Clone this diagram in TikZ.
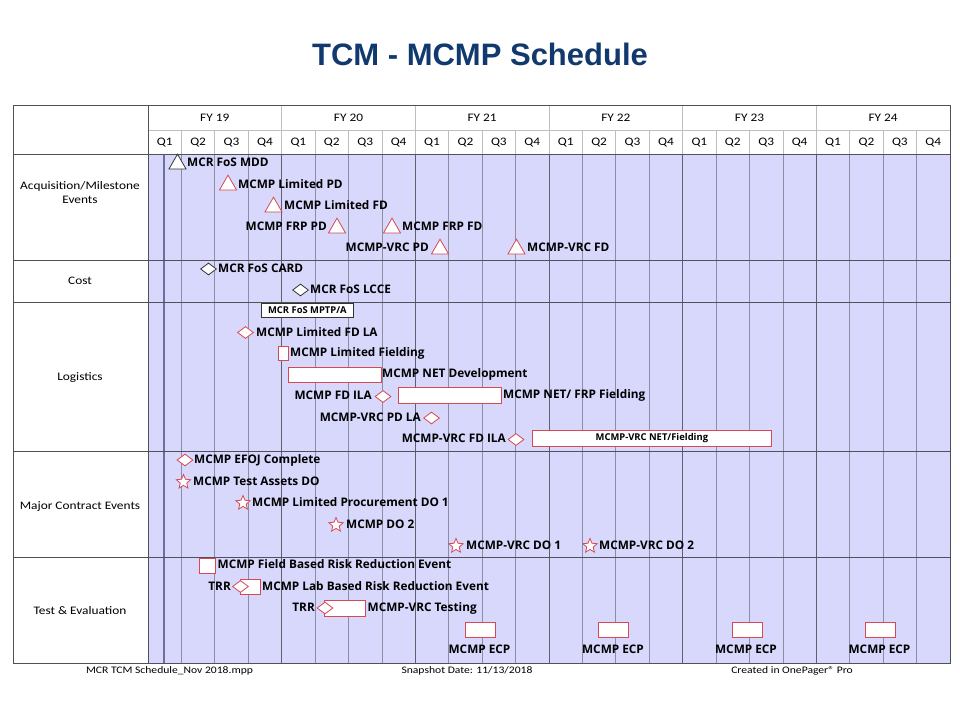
\documentclass[tikz,border=0pt]{standalone}
\usepackage{fontspec}
\setmainfont[FakeStretch=1.16]{Carlito}
\newfontfamily\titlefont{Liberation Sans}
\newfontfamily\lblfont{Open Sans}
\usetikzlibrary{shapes.geometric}
\definecolor{lav}{RGB}{216,216,252}
\definecolor{mred}{RGB}{214,72,82}
\definecolor{tblue}{RGB}{18,57,110}
\definecolor{qgray}{RGB}{140,140,165}
\definecolor{ygray}{RGB}{95,95,110}
\definecolor{hgray}{RGB}{190,190,190}
\definecolor{rowline}{RGB}{80,80,90}
\definecolor{todayc}{RGB}{110,110,160}
\tikzset{
  lbl/.style={inner sep=0pt, font=\lblfont\bfseries\fontsize{11.8}{12}\selectfont},
  small/.style={font=\lblfont\bfseries\fontsize{9.4}{9.4}\selectfont},
  hdr/.style={inner sep=0pt, font=\fontsize{11.5}{11.5}\selectfont},
  rowlbl/.style={inner sep=0pt, font=\fontsize{11.5}{14}\selectfont, align=center},
  foot/.style={inner sep=0pt, font=\fontsize{10}{10}\selectfont},
  tri/.style={regular polygon, regular polygon sides=3, draw=mred, fill=white, minimum size=19.6pt, inner sep=0pt, line width=0.8pt},
  btri/.style={tri, draw=black!80},
  dia/.style={diamond, draw=mred, fill=white, minimum width=16pt, minimum height=12pt, inner sep=0pt, line width=0.8pt},
  bdia/.style={dia, draw=black!80},
  mstar/.style={star, star points=5, star point ratio=2.2, draw=mred, fill=white, minimum size=15pt, inner sep=0pt, line width=0.8pt},
  bar/.style={rectangle, draw=mred, fill=white, inner sep=0pt, line width=0.8pt, anchor=north west},
  bbox/.style={rectangle, draw=black!80, fill=white, inner sep=0pt, line width=0.8pt, anchor=north west, small},
  qline/.style={draw=qgray, line width=0.7pt},
  yline/.style={draw=ygray, line width=0.9pt},
  hline/.style={draw=hgray, line width=0.7pt},
  rline/.style={draw=rowline, line width=1pt}
}
\begin{document}
\begin{tikzpicture}[x=1pt,y=-1pt]
\useasboundingbox (0,0) rectangle (960,720);
% title
\node[inner sep=0pt, anchor=base, font=\titlefont\bfseries\fontsize{31}{31}\selectfont, text=tblue] (title) at (480,65) {TCM - MCMP Schedule};
% backgrounds
\fill[white] (13,105) rectangle (950,663);
\fill[lav] (148,154) rectangle (950,663);
% quarter lines
\foreach \k in {1,...,23} {
  \pgfmathsetmacro\xx{148+\k*33.4167}
  \draw[qline] (\xx,154) -- (\xx,663);
  \draw[hline] (\xx,130) -- (\xx,154);
}
\foreach \k in {4,8,12,16,20} {
  \pgfmathsetmacro\xx{148+\k*33.4167}
  \draw[yline] (\xx,154) -- (\xx,663);
  \draw[hline] (\xx,105) -- (\xx,130);
}
\draw[hline] (148,130) -- (950,130);
% today line
\draw[draw=todayc, line width=1.1pt] (164,154) -- (164,663);
% row lines
\foreach \yy in {154,260,302,451,557} { \draw[rline] (13,\yy) -- (950,\yy); }
\draw[rline] (148,105) -- (148,663);
\draw[rline] (13,105) rectangle (950,663);
% header labels
\foreach \yr [count=\i from 0] in {19,20,21,22,23,24} {
  \pgfmathsetmacro\xx{148+\i*133.667+66.83}
  \node[hdr, anchor=base] (fy\yr) at (\xx,121.5) {FY \yr};
}
\foreach \k in {0,...,23} {
  \pgfmathsetmacro\xx{148+\k*33.4167+16.7}
  \pgfmathtruncatemacro\q{mod(\k,4)+1}
  \node[hdr, anchor=base] (q\k) at (\xx,145.5) {Q\q};
}
% row labels
\node[rowlbl, anchor=base] (r1) at (80,203.5) {Acquisition/Milestone\\Events};
\node[rowlbl, anchor=base] (r2) at (80,284.5) {Cost};
\node[rowlbl, anchor=base] (r3) at (80,380.5) {Logistics};
\node[rowlbl, anchor=base] (r4) at (80,509) {Major Contract Events};
\node[rowlbl, anchor=base] (r5) at (80,614) {Test \& Evaluation};
% Acquisition
\node[btri] (a1) at (177.5,164) {};
\node[lbl, anchor=base west] (a1t) at (187,166) {MCR FoS MDD};
\node[tri] (a2) at (228,185) {};
\node[lbl, anchor=base west] (a2t) at (238,188) {MCMP Limited PD};
\node[tri] (a3) at (273.5,207) {};
\node[lbl, anchor=base west] (a3t) at (284,209) {MCMP Limited FD};
\node[tri] (a4) at (337,228) {};
\node[lbl, anchor=base east] (a4t) at (327,230) {MCMP FRP PD};
\node[tri] (a5) at (392,228) {};
\node[lbl, anchor=base west] (a5t) at (402,230) {MCMP FRP FD};
\node[tri] (a6) at (440,249) {};
\node[lbl, anchor=base east] (a6t) at (429,251) {MCMP-VRC PD};
\node[tri] (a7) at (516.5,249) {};
\node[lbl, anchor=base west] (a7t) at (527,251) {MCMP-VRC FD};
% Cost
\node[bdia] (c1) at (208.5,269) {};
\node[lbl, anchor=base west] (c1t) at (218,272) {MCR FoS CARD};
\node[bdia] (c2) at (300.5,290) {};
\node[lbl, anchor=base west] (c2t) at (310,293.5) {MCR FoS LCCE};
% Logistics
\node[bbox, minimum width=92pt, minimum height=14pt] (l0) at (261,303) {MCR FoS MPTP/A};
\node[dia] (l1) at (245.5,332.5) {};
\node[lbl, anchor=base west] (l1t) at (256,336) {MCMP Limited FD LA};
\node[bar, minimum width=10pt, minimum height=14pt] (l2) at (278,346) {};
\node[lbl, anchor=base west] (l2t) at (290,356) {MCMP Limited Fielding};
\node[bar, minimum width=93pt, minimum height=15pt] (l3) at (288,367) {};
\node[lbl, anchor=base west] (l3t) at (382,377) {MCMP NET Development};
\node[lbl, anchor=base east] (l4t) at (372,399) {MCMP FD ILA};
\node[dia] (l4) at (383,396.5) {};
\node[bar, minimum width=103pt, minimum height=16pt] (l5) at (398,387) {};
\node[lbl, anchor=base west] (l5t) at (503,398) {MCMP NET/ FRP Fielding};
\node[lbl, anchor=base east] (l6t) at (421,421.5) {MCMP-VRC PD LA};
\node[dia] (l6) at (431.5,418) {};
\node[lbl, anchor=base east] (l7t) at (506,442.5) {MCMP-VRC FD ILA};
\node[dia] (l7) at (516,439.5) {};
\node[bar, minimum width=239pt, minimum height=16pt, small] (l8) at (532,430) {MCMP-VRC NET/Fielding};
% Major contract
\node[dia] (m1) at (185,460) {};
\node[lbl, anchor=base west] (m1t) at (194,463.5) {MCMP EFOJ Complete};
\node[mstar] (m2) at (183.5,482) {};
\node[lbl, anchor=base west] (m2t) at (193,485) {MCMP Test Assets DO};
\node[mstar] (m3) at (243,503) {};
\node[lbl, anchor=base west] (m3t) at (252,506.5) {MCMP Limited Procurement DO 1};
\node[mstar] (m4) at (336,525) {};
\node[lbl, anchor=base west] (m4t) at (346,528) {MCMP DO 2};
\node[mstar] (m5) at (456,546) {};
\node[lbl, anchor=base west] (m5t) at (466,549) {MCMP-VRC DO 1};
\node[mstar] (m6) at (590,546) {};
\node[lbl, anchor=base west] (m6t) at (599,549) {MCMP-VRC DO 2};
% Test & evaluation
\node[bar, minimum width=16pt, minimum height=15pt] (t1) at (199,558) {};
\node[lbl, anchor=base west] (t1t) at (217.5,568) {MCMP Field Based Risk Reduction Event};
\node[bar, minimum width=20pt, minimum height=15pt] (t2b) at (240,579) {};
\node[dia] (t2) at (240.5,586.5) {};
\node[lbl, anchor=base east] (t2r) at (231,590) {TRR};
\node[lbl, anchor=base west] (t2t) at (262,590) {MCMP Lab Based Risk Reduction Event};
\node[bar, minimum width=41pt, minimum height=16pt] (t3b) at (324,600) {};
\node[dia] (t3) at (325,608) {};
\node[lbl, anchor=base east] (t3r) at (315,611) {TRR};
\node[lbl, anchor=base west] (t3t) at (367.5,611) {MCMP-VRC Testing};
\foreach \bx/\cx [count=\i] in {465/479.5, 598/613, 732/746, 865/879.5} {
  \node[bar, minimum width=29.5pt, minimum height=15pt] (e\i) at (\bx,622) {};
  \node[lbl, anchor=base] (e\i t) at (\cx,653) {MCMP ECP};
}
% footer
\node[foot, anchor=base] (f1) at (169.5,673) {MCR TCM Schedule\_Nov 2018.mpp};
\node[foot, anchor=base] (f2) at (467,673) {Snapshot Date: 11/13/2018};
\node[foot, anchor=base] (f3) at (792,673) {Created in OnePager® Pro};
\end{tikzpicture}
\end{document}
